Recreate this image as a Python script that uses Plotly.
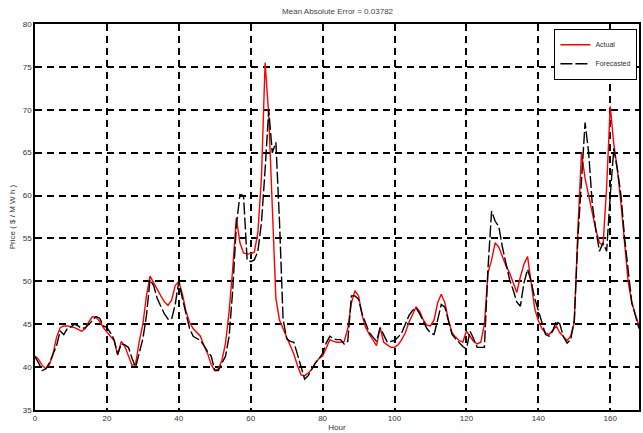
import plotly.graph_objects as go

FONT = "Arial, Liberation Sans, sans-serif"
ACTUAL_COLOR = "#ff0000"
FORECAST_COLOR = "#000000"
TEXT_COLOR = "#333333"

hours = list(range(0, 169))

actual = [
    41.3, 40.9, 40.2, 39.8, 40.3, 41.5, 43.5, 44.6, 44.8, 44.8,
    44.7, 44.6, 44.4, 44.2, 44.5, 45.3, 45.9, 45.8, 45.3, 44.6,
    44.1, 43.6, 43.1, 41.4, 43.0, 42.4, 41.4, 40.2, 40.4, 43.0,
    45.0, 48.3, 50.6, 49.8, 49.0, 48.3, 47.6, 47.2, 47.8, 49.5,
    50.0, 48.5, 46.5, 45.2, 44.5, 44.1, 43.6, 42.5, 41.6, 40.3,
    39.6, 39.8, 40.8, 42.8, 46.5, 51.5, 57.4, 54.5, 53.3, 53.2,
    53.2, 53.4, 55.7, 62.2, 75.5, 69.5, 58.0, 48.0, 45.5, 44.5,
    43.5, 42.5, 41.5, 40.2, 39.1, 39.0, 39.3, 39.8, 40.5, 41.0,
    41.3, 42.2, 43.2, 43.0, 42.9, 42.9, 43.0, 44.5, 47.5, 48.9,
    48.3, 46.0, 44.6, 43.8, 43.2, 42.5, 44.6, 42.9, 42.6, 42.3,
    42.3, 42.6, 43.2, 44.0, 45.2, 46.2, 47.0, 46.5, 45.5, 44.9,
    44.8, 45.5, 47.5, 48.5, 47.5, 45.5, 44.0, 43.5, 43.1, 42.9,
    44.2, 43.6, 43.0, 42.7, 42.9, 45.0, 51.0, 52.5, 54.5, 54.0,
    52.8, 51.8, 51.0, 49.8, 48.7, 50.5, 52.0, 52.9, 50.0, 46.8,
    45.4, 44.5, 44.0, 43.8, 44.3, 44.8, 44.0, 43.5, 43.1, 43.6,
    45.2, 56.0, 65.0, 62.0, 60.0, 58.0, 56.0, 54.5, 54.2, 61.0,
    70.4, 66.0, 63.0, 59.0, 54.0, 49.9, 47.5, 46.0, 44.8,
]

forecasted = [
    41.2, 40.5, 39.6, 39.8, 40.5, 41.5, 42.5, 44.2, 43.8, 44.5,
    44.7, 45.0, 44.8, 44.5, 44.6, 45.0, 45.5, 45.9, 45.7, 44.8,
    44.6, 44.0, 43.2, 41.5, 42.7, 42.6, 42.3, 41.0, 40.0, 41.5,
    43.3, 46.0, 50.2, 49.5, 48.0, 47.1, 46.2, 45.6, 45.6, 47.3,
    50.0, 48.0, 46.4, 44.5, 43.6, 43.3, 43.1, 42.5, 41.8, 41.3,
    39.6, 39.6, 40.5, 41.3, 43.6, 49.0, 56.5, 60.1, 60.0, 52.5,
    52.3, 52.5, 53.5, 56.9, 63.0, 70.0, 65.0, 66.2, 57.0, 45.6,
    43.3, 43.0, 42.9, 41.5, 40.1, 38.6, 39.0, 39.7, 40.5, 41.0,
    41.6, 42.8, 43.6, 43.3, 43.2, 43.2, 42.7, 43.0, 48.3, 48.3,
    47.9, 46.2, 45.0, 44.0, 43.5, 43.0, 44.6, 43.8, 42.9, 43.0,
    43.1, 43.5, 44.0, 45.0, 46.0, 46.6, 46.9, 46.2, 45.3, 44.5,
    44.0, 43.8, 45.5, 47.3, 47.0, 45.5, 43.8, 43.3, 42.8, 42.4,
    42.1, 44.2, 43.3, 42.3, 42.3, 42.3, 51.5, 58.2, 57.0, 56.4,
    54.0, 52.0, 50.2, 49.0, 47.6, 47.1, 49.8, 51.4, 50.0, 48.0,
    46.5, 45.0, 43.8, 43.6, 44.2, 45.4, 45.0, 43.5, 42.8, 43.2,
    45.5, 55.0, 62.5, 68.5, 65.0, 59.0, 56.0, 53.5, 54.5, 53.5,
    60.0, 65.5, 63.0, 60.0, 55.0, 51.0, 47.5, 46.0, 44.5,
]

x_ticks = [0, 20, 40, 60, 80, 100, 120, 140, 160]
y_ticks = [35, 40, 45, 50, 55, 60, 65, 70, 75, 80]

fig = go.Figure()
fig.add_trace(go.Scatter(
    x=hours, y=actual, mode="lines", name="Actual",
    line=dict(color=ACTUAL_COLOR, width=1.4),
))
fig.add_trace(go.Scatter(
    x=hours, y=forecasted, mode="lines", name="Forecasted",
    line=dict(color=FORECAST_COLOR, width=1.4, dash="12px,3px"),
))

axis_style = dict(
    showgrid=True, gridcolor="black", gridwidth=1.5, griddash="7px,5px",
    showline=True, linecolor="black", linewidth=1.5, mirror=True,
    zeroline=False, ticks="", tickfont=dict(size=8, color=TEXT_COLOR, family=FONT),
)

fig.update_layout(
    width=643, height=433,
    paper_bgcolor="white", plot_bgcolor="white",
    font=dict(family=FONT, color=TEXT_COLOR),
    title=dict(text="Mean Absolute Error = 0.03782", x=0.525, xanchor="center",
               y=0.975, yanchor="middle", font=dict(size=8, color="#444444")),
    xaxis=dict(range=[0, 168], tickvals=x_ticks,
               title=dict(text="Hour", font=dict(size=8, color=TEXT_COLOR), standoff=2),
               **axis_style),
    yaxis=dict(range=[35, 80], tickvals=y_ticks,
               title=dict(text="Price ( $ / M W h )", font=dict(size=8, color=TEXT_COLOR), standoff=6),
               **axis_style),
    legend=dict(x=0.997, y=0.987, xanchor="right", yanchor="top",
                bgcolor="white", bordercolor="black", borderwidth=1.2,
                font=dict(size=7, color=TEXT_COLOR), tracegroupgap=0,
                itemwidth=30),
    margin=dict(l=35, r=2, t=24, b=23),
    showlegend=True,
)

fig.write_html("out.html", config={"displayModeBar": False},
               post_script="document.body.style.margin='0';")
